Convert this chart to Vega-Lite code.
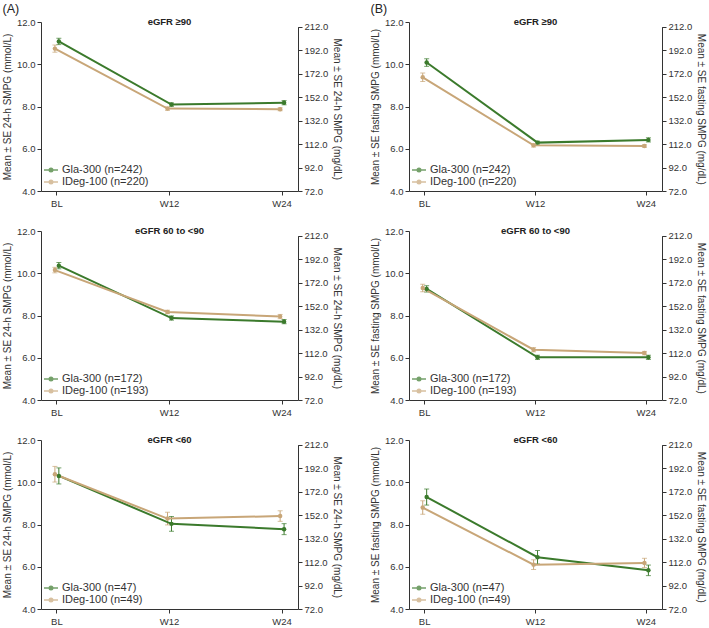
{
  "$schema": "https://vega.github.io/schema/vega-lite/v6.json",
  "padding": {"left": 2, "top": 2, "right": 1, "bottom": 2},
  "config": {
    "font": "Liberation Sans",
    "view": {"stroke": null},
    "axis": {"labelFontSize": 9.5, "titleFontSize": 10, "labelColor": "#333", "titleColor": "#333", "domainColor": "#333", "tickColor": "#333", "grid": false, "titleFontWeight": "normal", "tickSize": 4, "labelFont": "Liberation Sans", "titleFont": "Liberation Sans"},
    "legend": {"labelFontSize": 11, "labelColor": "#333", "labelFont": "Liberation Sans", "title": null, "orient": "bottom-left", "offset": 4, "symbolType": "M-1.4,0L1.4,0M-0.35,0A0.35,0.35,0,1,0,0.35,0A0.35,0.35,0,1,0,-0.35,0", "symbolSize": 100, "symbolStrokeWidth": 1.5, "rowPadding": 1, "labelOffset": 5},
    "title": {"font": "Liberation Sans", "fontWeight": "normal", "fontSize": 12.5, "color": "#222", "anchor": "start", "frame": "bounds", "offset": 2}
  },
  "datasets": {
    "a1": [
      {"t": "BL", "arm": "Gla-300", "s": "Gla-300 (n=242)", "m": 11.08, "lo": 10.93, "hi": 11.23},
      {"t": "W12", "arm": "Gla-300", "s": "Gla-300 (n=242)", "m": 8.09, "lo": 8.01, "hi": 8.17},
      {"t": "W24", "arm": "Gla-300", "s": "Gla-300 (n=242)", "m": 8.18, "lo": 8.08, "hi": 8.28},
      {"t": "BL", "arm": "IDeg-100", "s": "IDeg-100 (n=220)", "m": 10.74, "lo": 10.57, "hi": 10.91},
      {"t": "W12", "arm": "IDeg-100", "s": "IDeg-100 (n=220)", "m": 7.9, "lo": 7.82, "hi": 7.98},
      {"t": "W24", "arm": "IDeg-100", "s": "IDeg-100 (n=220)", "m": 7.87, "lo": 7.8, "hi": 7.94}
    ],
    "a2": [
      {"t": "BL", "arm": "Gla-300", "s": "Gla-300 (n=172)", "m": 10.36, "lo": 10.21, "hi": 10.51},
      {"t": "W12", "arm": "Gla-300", "s": "Gla-300 (n=172)", "m": 7.88, "lo": 7.78, "hi": 7.98},
      {"t": "W24", "arm": "Gla-300", "s": "Gla-300 (n=172)", "m": 7.71, "lo": 7.61, "hi": 7.81},
      {"t": "BL", "arm": "IDeg-100", "s": "IDeg-100 (n=193)", "m": 10.15, "lo": 10.02, "hi": 10.28},
      {"t": "W12", "arm": "IDeg-100", "s": "IDeg-100 (n=193)", "m": 8.17, "lo": 8.09, "hi": 8.25},
      {"t": "W24", "arm": "IDeg-100", "s": "IDeg-100 (n=193)", "m": 7.95, "lo": 7.85, "hi": 8.05}
    ],
    "a3": [
      {"t": "BL", "arm": "Gla-300", "s": "Gla-300 (n=47)", "m": 10.3, "lo": 9.92, "hi": 10.68},
      {"t": "W12", "arm": "Gla-300", "s": "Gla-300 (n=47)", "m": 8.03, "lo": 7.68, "hi": 8.38},
      {"t": "W24", "arm": "Gla-300", "s": "Gla-300 (n=47)", "m": 7.78, "lo": 7.52, "hi": 8.04},
      {"t": "BL", "arm": "IDeg-100", "s": "IDeg-100 (n=49)", "m": 10.38, "lo": 10.01, "hi": 10.75},
      {"t": "W12", "arm": "IDeg-100", "s": "IDeg-100 (n=49)", "m": 8.28, "lo": 7.98, "hi": 8.58},
      {"t": "W24", "arm": "IDeg-100", "s": "IDeg-100 (n=49)", "m": 8.4, "lo": 8.15, "hi": 8.65}
    ],
    "b1": [
      {"t": "BL", "arm": "Gla-300", "s": "Gla-300 (n=242)", "m": 10.08, "lo": 9.9, "hi": 10.26},
      {"t": "W12", "arm": "Gla-300", "s": "Gla-300 (n=242)", "m": 6.29, "lo": 6.22, "hi": 6.36},
      {"t": "W24", "arm": "Gla-300", "s": "Gla-300 (n=242)", "m": 6.42, "lo": 6.32, "hi": 6.52},
      {"t": "BL", "arm": "IDeg-100", "s": "IDeg-100 (n=220)", "m": 9.38, "lo": 9.18, "hi": 9.58},
      {"t": "W12", "arm": "IDeg-100", "s": "IDeg-100 (n=220)", "m": 6.16, "lo": 6.08, "hi": 6.24},
      {"t": "W24", "arm": "IDeg-100", "s": "IDeg-100 (n=220)", "m": 6.13, "lo": 6.07, "hi": 6.19}
    ],
    "b2": [
      {"t": "BL", "arm": "Gla-300", "s": "Gla-300 (n=172)", "m": 9.26, "lo": 9.11, "hi": 9.41},
      {"t": "W12", "arm": "Gla-300", "s": "Gla-300 (n=172)", "m": 6.02, "lo": 5.92, "hi": 6.12},
      {"t": "W24", "arm": "Gla-300", "s": "Gla-300 (n=172)", "m": 6.02, "lo": 5.92, "hi": 6.12},
      {"t": "BL", "arm": "IDeg-100", "s": "IDeg-100 (n=193)", "m": 9.3, "lo": 9.12, "hi": 9.48},
      {"t": "W12", "arm": "IDeg-100", "s": "IDeg-100 (n=193)", "m": 6.38, "lo": 6.28, "hi": 6.48},
      {"t": "W24", "arm": "IDeg-100", "s": "IDeg-100 (n=193)", "m": 6.22, "lo": 6.14, "hi": 6.3}
    ],
    "b3": [
      {"t": "BL", "arm": "Gla-300", "s": "Gla-300 (n=47)", "m": 9.3, "lo": 8.92, "hi": 9.68},
      {"t": "W12", "arm": "Gla-300", "s": "Gla-300 (n=47)", "m": 6.45, "lo": 6.13, "hi": 6.77},
      {"t": "W24", "arm": "Gla-300", "s": "Gla-300 (n=47)", "m": 5.83, "lo": 5.58, "hi": 6.08},
      {"t": "BL", "arm": "IDeg-100", "s": "IDeg-100 (n=49)", "m": 8.8, "lo": 8.48, "hi": 9.12},
      {"t": "W12", "arm": "IDeg-100", "s": "IDeg-100 (n=49)", "m": 6.1, "lo": 5.87, "hi": 6.33},
      {"t": "W24", "arm": "IDeg-100", "s": "IDeg-100 (n=49)", "m": 6.18, "lo": 5.96, "hi": 6.4}
    ]
  },
  "hconcat": [
    {
      "title": {"text": "(A)"},
      "spacing": 18,
      "vconcat": [
        {
          "width": 257, "height": 169,
          "data": {"name": "a1"},
          "layer": [
            {
              "layer": [
                {"mark": {"type": "rule", "strokeWidth": 1},
                 "encoding": {"x": {"field": "t", "type": "nominal", "sort": ["BL", "W12", "W24"], "scale": {"type": "band", "paddingInner": 0.93, "paddingOuter": 0.106}, "axis": {"title": null, "labelAngle": 0, "labelPadding": 3}},
                   "xOffset": {"field": "arm", "sort": ["IDeg-100", "Gla-300"]},
                   "y": {"field": "lo", "type": "quantitative", "scale": {"domain": [4, 12]}, "axis": {"values": [4, 6, 8, 10, 12], "format": ".1f", "title": "Mean ± SE 24-h SMPG (mmol/L)"}},
                   "y2": {"field": "hi"},
                   "color": {"field": "s", "type": "nominal", "scale": {"domain": ["Gla-300 (n=242)", "IDeg-100 (n=220)"], "range": ["#3b7a2c", "#c8a678"]}}}},
                {"mark": {"type": "tick", "size": 5, "thickness": 1},
                 "encoding": {"x": {"field": "t", "type": "nominal", "sort": ["BL", "W12", "W24"]}, "xOffset": {"field": "arm", "sort": ["IDeg-100", "Gla-300"]}, "y": {"field": "lo", "type": "quantitative"}, "color": {"field": "s", "type": "nominal"}}},
                {"mark": {"type": "tick", "size": 5, "thickness": 1},
                 "encoding": {"x": {"field": "t", "type": "nominal", "sort": ["BL", "W12", "W24"]}, "xOffset": {"field": "arm", "sort": ["IDeg-100", "Gla-300"]}, "y": {"field": "hi", "type": "quantitative"}, "color": {"field": "s", "type": "nominal"}}},
                {"mark": {"type": "line", "strokeWidth": 2, "point": {"filled": true, "size": 20}},
                 "encoding": {"x": {"field": "t", "type": "nominal", "sort": ["BL", "W12", "W24"]}, "xOffset": {"field": "arm", "sort": ["IDeg-100", "Gla-300"]}, "y": {"field": "m", "type": "quantitative"}, "color": {"field": "s", "type": "nominal"}}},
                {"data": {"values": [{"lab": "eGFR ≥90"}]},
                 "mark": {"type": "text", "fontWeight": "bold", "fontSize": 9.5, "color": "#222", "baseline": "middle"},
                 "encoding": {"x": {"datum": "W12"}, "y": {"datum": 12}, "text": {"field": "lab"}}}
              ]
            },
            {"mark": {"type": "rule", "opacity": 0},
             "encoding": {"y": {"datum": 72, "type": "quantitative", "scale": {"domain": [72, 212], "range": [169, 4.7]}, "axis": {"orient": "right", "values": [72, 92, 112, 132, 152, 172, 192, 212], "format": ".1f", "title": "Mean ± SE 24-h SMPG (mg/dL)"}}}}
          ],
          "resolve": {"scale": {"y": "independent"}}
        },
        {
          "width": 257, "height": 169,
          "data": {"name": "a2"},
          "layer": [
            {
              "layer": [
                {"mark": {"type": "rule", "strokeWidth": 1},
                 "encoding": {"x": {"field": "t", "type": "nominal", "sort": ["BL", "W12", "W24"], "scale": {"type": "band", "paddingInner": 0.93, "paddingOuter": 0.106}, "axis": {"title": null, "labelAngle": 0, "labelPadding": 3}},
                   "xOffset": {"field": "arm", "sort": ["IDeg-100", "Gla-300"]},
                   "y": {"field": "lo", "type": "quantitative", "scale": {"domain": [4, 12]}, "axis": {"values": [4, 6, 8, 10, 12], "format": ".1f", "title": "Mean ± SE 24-h SMPG (mmol/L)"}},
                   "y2": {"field": "hi"},
                   "color": {"field": "s", "type": "nominal", "scale": {"domain": ["Gla-300 (n=172)", "IDeg-100 (n=193)"], "range": ["#3b7a2c", "#c8a678"]}}}},
                {"mark": {"type": "tick", "size": 5, "thickness": 1},
                 "encoding": {"x": {"field": "t", "type": "nominal", "sort": ["BL", "W12", "W24"]}, "xOffset": {"field": "arm", "sort": ["IDeg-100", "Gla-300"]}, "y": {"field": "lo", "type": "quantitative"}, "color": {"field": "s", "type": "nominal"}}},
                {"mark": {"type": "tick", "size": 5, "thickness": 1},
                 "encoding": {"x": {"field": "t", "type": "nominal", "sort": ["BL", "W12", "W24"]}, "xOffset": {"field": "arm", "sort": ["IDeg-100", "Gla-300"]}, "y": {"field": "hi", "type": "quantitative"}, "color": {"field": "s", "type": "nominal"}}},
                {"mark": {"type": "line", "strokeWidth": 2, "point": {"filled": true, "size": 20}},
                 "encoding": {"x": {"field": "t", "type": "nominal", "sort": ["BL", "W12", "W24"]}, "xOffset": {"field": "arm", "sort": ["IDeg-100", "Gla-300"]}, "y": {"field": "m", "type": "quantitative"}, "color": {"field": "s", "type": "nominal"}}},
                {"data": {"values": [{"lab": "eGFR 60 to <90"}]},
                 "mark": {"type": "text", "fontWeight": "bold", "fontSize": 9.5, "color": "#222", "baseline": "middle"},
                 "encoding": {"x": {"datum": "W12"}, "y": {"datum": 12}, "text": {"field": "lab"}}}
              ]
            },
            {"mark": {"type": "rule", "opacity": 0},
             "encoding": {"y": {"datum": 72, "type": "quantitative", "scale": {"domain": [72, 212], "range": [169, 4.7]}, "axis": {"orient": "right", "values": [72, 92, 112, 132, 152, 172, 192, 212], "format": ".1f", "title": "Mean ± SE 24-h SMPG (mg/dL)"}}}}
          ],
          "resolve": {"scale": {"y": "independent"}}
        },
        {
          "width": 257, "height": 169,
          "data": {"name": "a3"},
          "layer": [
            {
              "layer": [
                {"mark": {"type": "rule", "strokeWidth": 1},
                 "encoding": {"x": {"field": "t", "type": "nominal", "sort": ["BL", "W12", "W24"], "scale": {"type": "band", "paddingInner": 0.93, "paddingOuter": 0.106}, "axis": {"title": null, "labelAngle": 0, "labelPadding": 3}},
                   "xOffset": {"field": "arm", "sort": ["IDeg-100", "Gla-300"]},
                   "y": {"field": "lo", "type": "quantitative", "scale": {"domain": [4, 12]}, "axis": {"values": [4, 6, 8, 10, 12], "format": ".1f", "title": "Mean ± SE 24-h SMPG (mmol/L)"}},
                   "y2": {"field": "hi"},
                   "color": {"field": "s", "type": "nominal", "scale": {"domain": ["Gla-300 (n=47)", "IDeg-100 (n=49)"], "range": ["#3b7a2c", "#c8a678"]}}}},
                {"mark": {"type": "tick", "size": 5, "thickness": 1},
                 "encoding": {"x": {"field": "t", "type": "nominal", "sort": ["BL", "W12", "W24"]}, "xOffset": {"field": "arm", "sort": ["IDeg-100", "Gla-300"]}, "y": {"field": "lo", "type": "quantitative"}, "color": {"field": "s", "type": "nominal"}}},
                {"mark": {"type": "tick", "size": 5, "thickness": 1},
                 "encoding": {"x": {"field": "t", "type": "nominal", "sort": ["BL", "W12", "W24"]}, "xOffset": {"field": "arm", "sort": ["IDeg-100", "Gla-300"]}, "y": {"field": "hi", "type": "quantitative"}, "color": {"field": "s", "type": "nominal"}}},
                {"mark": {"type": "line", "strokeWidth": 2, "point": {"filled": true, "size": 20}},
                 "encoding": {"x": {"field": "t", "type": "nominal", "sort": ["BL", "W12", "W24"]}, "xOffset": {"field": "arm", "sort": ["IDeg-100", "Gla-300"]}, "y": {"field": "m", "type": "quantitative"}, "color": {"field": "s", "type": "nominal"}}},
                {"data": {"values": [{"lab": "eGFR <60"}]},
                 "mark": {"type": "text", "fontWeight": "bold", "fontSize": 9.5, "color": "#222", "baseline": "middle"},
                 "encoding": {"x": {"datum": "W12"}, "y": {"datum": 12}, "text": {"field": "lab"}}}
              ]
            },
            {"mark": {"type": "rule", "opacity": 0},
             "encoding": {"y": {"datum": 72, "type": "quantitative", "scale": {"domain": [72, 212], "range": [169, 4.7]}, "axis": {"orient": "right", "values": [72, 92, 112, 132, 152, 172, 192, 212], "format": ".1f", "title": "Mean ± SE 24-h SMPG (mg/dL)"}}}}
          ],
          "resolve": {"scale": {"y": "independent"}}
        }
      ],
      "resolve": {"scale": {"color": "independent"}, "legend": {"color": "independent"}}
    },
    {
      "title": {"text": "(B)"},
      "spacing": 18,
      "vconcat": [
        {
          "width": 253, "height": 169,
          "data": {"name": "b1"},
          "layer": [
            {
              "layer": [
                {"mark": {"type": "rule", "strokeWidth": 1},
                 "encoding": {"x": {"field": "t", "type": "nominal", "sort": ["BL", "W12", "W24"], "scale": {"type": "band", "paddingInner": 0.93, "paddingOuter": 0.106}, "axis": {"title": null, "labelAngle": 0, "labelPadding": 3}},
                   "xOffset": {"field": "arm", "sort": ["IDeg-100", "Gla-300"]},
                   "y": {"field": "lo", "type": "quantitative", "scale": {"domain": [4, 12]}, "axis": {"values": [4, 6, 8, 10, 12], "format": ".1f", "title": "Mean ± SE fasting SMPG (mmol/L)"}},
                   "y2": {"field": "hi"},
                   "color": {"field": "s", "type": "nominal", "scale": {"domain": ["Gla-300 (n=242)", "IDeg-100 (n=220)"], "range": ["#3b7a2c", "#c8a678"]}}}},
                {"mark": {"type": "tick", "size": 5, "thickness": 1},
                 "encoding": {"x": {"field": "t", "type": "nominal", "sort": ["BL", "W12", "W24"]}, "xOffset": {"field": "arm", "sort": ["IDeg-100", "Gla-300"]}, "y": {"field": "lo", "type": "quantitative"}, "color": {"field": "s", "type": "nominal"}}},
                {"mark": {"type": "tick", "size": 5, "thickness": 1},
                 "encoding": {"x": {"field": "t", "type": "nominal", "sort": ["BL", "W12", "W24"]}, "xOffset": {"field": "arm", "sort": ["IDeg-100", "Gla-300"]}, "y": {"field": "hi", "type": "quantitative"}, "color": {"field": "s", "type": "nominal"}}},
                {"mark": {"type": "line", "strokeWidth": 2, "point": {"filled": true, "size": 20}},
                 "encoding": {"x": {"field": "t", "type": "nominal", "sort": ["BL", "W12", "W24"]}, "xOffset": {"field": "arm", "sort": ["IDeg-100", "Gla-300"]}, "y": {"field": "m", "type": "quantitative"}, "color": {"field": "s", "type": "nominal"}}},
                {"data": {"values": [{"lab": "eGFR ≥90"}]},
                 "mark": {"type": "text", "fontWeight": "bold", "fontSize": 9.5, "color": "#222", "baseline": "middle"},
                 "encoding": {"x": {"datum": "W12"}, "y": {"datum": 12}, "text": {"field": "lab"}}}
              ]
            },
            {"mark": {"type": "rule", "opacity": 0},
             "encoding": {"y": {"datum": 72, "type": "quantitative", "scale": {"domain": [72, 212], "range": [169, 4.7]}, "axis": {"orient": "right", "values": [72, 92, 112, 132, 152, 172, 192, 212], "format": ".1f", "title": "Mean ± SE fasting SMPG (mg/dL)"}}}}
          ],
          "resolve": {"scale": {"y": "independent"}}
        },
        {
          "width": 253, "height": 169,
          "data": {"name": "b2"},
          "layer": [
            {
              "layer": [
                {"mark": {"type": "rule", "strokeWidth": 1},
                 "encoding": {"x": {"field": "t", "type": "nominal", "sort": ["BL", "W12", "W24"], "scale": {"type": "band", "paddingInner": 0.93, "paddingOuter": 0.106}, "axis": {"title": null, "labelAngle": 0, "labelPadding": 3}},
                   "xOffset": {"field": "arm", "sort": ["IDeg-100", "Gla-300"]},
                   "y": {"field": "lo", "type": "quantitative", "scale": {"domain": [4, 12]}, "axis": {"values": [4, 6, 8, 10, 12], "format": ".1f", "title": "Mean ± SE fasting SMPG (mmol/L)"}},
                   "y2": {"field": "hi"},
                   "color": {"field": "s", "type": "nominal", "scale": {"domain": ["Gla-300 (n=172)", "IDeg-100 (n=193)"], "range": ["#3b7a2c", "#c8a678"]}}}},
                {"mark": {"type": "tick", "size": 5, "thickness": 1},
                 "encoding": {"x": {"field": "t", "type": "nominal", "sort": ["BL", "W12", "W24"]}, "xOffset": {"field": "arm", "sort": ["IDeg-100", "Gla-300"]}, "y": {"field": "lo", "type": "quantitative"}, "color": {"field": "s", "type": "nominal"}}},
                {"mark": {"type": "tick", "size": 5, "thickness": 1},
                 "encoding": {"x": {"field": "t", "type": "nominal", "sort": ["BL", "W12", "W24"]}, "xOffset": {"field": "arm", "sort": ["IDeg-100", "Gla-300"]}, "y": {"field": "hi", "type": "quantitative"}, "color": {"field": "s", "type": "nominal"}}},
                {"mark": {"type": "line", "strokeWidth": 2, "point": {"filled": true, "size": 20}},
                 "encoding": {"x": {"field": "t", "type": "nominal", "sort": ["BL", "W12", "W24"]}, "xOffset": {"field": "arm", "sort": ["IDeg-100", "Gla-300"]}, "y": {"field": "m", "type": "quantitative"}, "color": {"field": "s", "type": "nominal"}}},
                {"data": {"values": [{"lab": "eGFR 60 to <90"}]},
                 "mark": {"type": "text", "fontWeight": "bold", "fontSize": 9.5, "color": "#222", "baseline": "middle"},
                 "encoding": {"x": {"datum": "W12"}, "y": {"datum": 12}, "text": {"field": "lab"}}}
              ]
            },
            {"mark": {"type": "rule", "opacity": 0},
             "encoding": {"y": {"datum": 72, "type": "quantitative", "scale": {"domain": [72, 212], "range": [169, 4.7]}, "axis": {"orient": "right", "values": [72, 92, 112, 132, 152, 172, 192, 212], "format": ".1f", "title": "Mean ± SE fasting SMPG (mg/dL)"}}}}
          ],
          "resolve": {"scale": {"y": "independent"}}
        },
        {
          "width": 253, "height": 169,
          "data": {"name": "b3"},
          "layer": [
            {
              "layer": [
                {"mark": {"type": "rule", "strokeWidth": 1},
                 "encoding": {"x": {"field": "t", "type": "nominal", "sort": ["BL", "W12", "W24"], "scale": {"type": "band", "paddingInner": 0.93, "paddingOuter": 0.106}, "axis": {"title": null, "labelAngle": 0, "labelPadding": 3}},
                   "xOffset": {"field": "arm", "sort": ["IDeg-100", "Gla-300"]},
                   "y": {"field": "lo", "type": "quantitative", "scale": {"domain": [4, 12]}, "axis": {"values": [4, 6, 8, 10, 12], "format": ".1f", "title": "Mean ± SE fasting SMPG (mmol/L)"}},
                   "y2": {"field": "hi"},
                   "color": {"field": "s", "type": "nominal", "scale": {"domain": ["Gla-300 (n=47)", "IDeg-100 (n=49)"], "range": ["#3b7a2c", "#c8a678"]}}}},
                {"mark": {"type": "tick", "size": 5, "thickness": 1},
                 "encoding": {"x": {"field": "t", "type": "nominal", "sort": ["BL", "W12", "W24"]}, "xOffset": {"field": "arm", "sort": ["IDeg-100", "Gla-300"]}, "y": {"field": "lo", "type": "quantitative"}, "color": {"field": "s", "type": "nominal"}}},
                {"mark": {"type": "tick", "size": 5, "thickness": 1},
                 "encoding": {"x": {"field": "t", "type": "nominal", "sort": ["BL", "W12", "W24"]}, "xOffset": {"field": "arm", "sort": ["IDeg-100", "Gla-300"]}, "y": {"field": "hi", "type": "quantitative"}, "color": {"field": "s", "type": "nominal"}}},
                {"mark": {"type": "line", "strokeWidth": 2, "point": {"filled": true, "size": 20}},
                 "encoding": {"x": {"field": "t", "type": "nominal", "sort": ["BL", "W12", "W24"]}, "xOffset": {"field": "arm", "sort": ["IDeg-100", "Gla-300"]}, "y": {"field": "m", "type": "quantitative"}, "color": {"field": "s", "type": "nominal"}}},
                {"data": {"values": [{"lab": "eGFR <60"}]},
                 "mark": {"type": "text", "fontWeight": "bold", "fontSize": 9.5, "color": "#222", "baseline": "middle"},
                 "encoding": {"x": {"datum": "W12"}, "y": {"datum": 12}, "text": {"field": "lab"}}}
              ]
            },
            {"mark": {"type": "rule", "opacity": 0},
             "encoding": {"y": {"datum": 72, "type": "quantitative", "scale": {"domain": [72, 212], "range": [169, 4.7]}, "axis": {"orient": "right", "values": [72, 92, 112, 132, 152, 172, 192, 212], "format": ".1f", "title": "Mean ± SE fasting SMPG (mg/dL)"}}}}
          ],
          "resolve": {"scale": {"y": "independent"}}
        }
      ],
      "resolve": {"scale": {"color": "independent"}, "legend": {"color": "independent"}}
    }
  ],
  "spacing": 28,
  "resolve": {"scale": {"color": "independent"}, "legend": {"color": "independent"}}
}
